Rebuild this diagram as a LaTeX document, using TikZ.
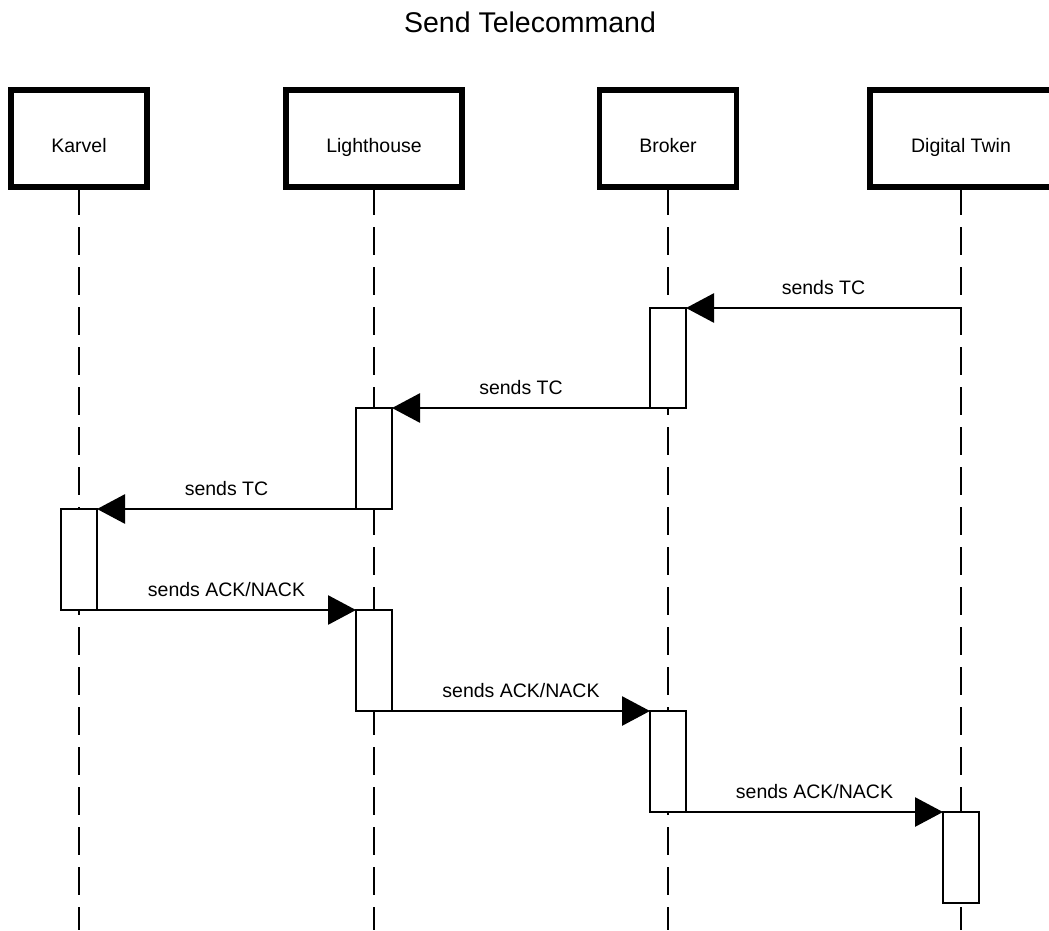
\documentclass[tikz,border=0pt]{standalone}
\usepackage{fontspec}
\setmainfont{Liberation Sans}
\usetikzlibrary{arrows.meta}
\begin{document}
\begin{tikzpicture}[x=1pt,y=-1pt,
  header/.style={draw, line width=5.5pt, fill=white, minimum height=97pt,
    inner sep=0pt, outer sep=0pt, text height=27pt, text depth=0pt,
    font=\fontsize{19.5}{22}\selectfont},
  lifeline/.style={line width=2.8pt, dash pattern=on 28pt off 12pt},
  actbox/.style={draw, fill=white, line width=2.8pt, minimum width=36pt,
    inner sep=0pt, outer sep=0pt},
  msg/.style={line width=2.8pt, -{Triangle[length=28pt,width=29pt]}},
  msglabel/.style={midway, anchor=base, yshift=14pt, font=\fontsize{19.5}{22}\selectfont},
]
\useasboundingbox (0,0) rectangle (1049,930);
\clip (0,0) rectangle (1049,930);

% title
\node[anchor=base, font=\fontsize{28.5}{32}\selectfont] (title) at (530,32) {Send Telecommand};

% participants
\node[header, minimum width=136pt] (karvel) at (79,138.5) {Karvel};
\node[header, minimum width=176pt] (light) at (374,138.5) {Lighthouse};
\node[header, minimum width=137pt] (broker) at (668,138.5) {Broker};
\node[header, minimum width=182pt] (twin) at (961,138.5) {Digital Twin};

% lifeline ends
\coordinate (karvel-end) at (79,930);
\coordinate (light-end) at (374,930);
\coordinate (broker-end) at (668,930);
\coordinate (twin-end) at (961,930);

\draw[lifeline] (karvel.south) -- (karvel-end);
\draw[lifeline] (light.south) -- (light-end);
\draw[lifeline] (broker.south) -- (broker-end);
\draw[lifeline] (twin.south) -- (twin-end);

% activation bars
\node[actbox, minimum height=100pt] (act1) at (668,358) {};
\node[actbox, minimum height=101pt] (act2) at (374,458.5) {};
\node[actbox, minimum height=101pt] (act3) at (79,559.5) {};
\node[actbox, minimum height=101pt] (act4) at (374,660.5) {};
\node[actbox, minimum height=101pt] (act5) at (668,761.5) {};
\node[actbox, minimum height=91pt] (act6) at (961,857.5) {};

% messages
\draw[msg] (twin |- act1.north east) -- (act1.north east) node[msglabel] {sends TC};
\draw[msg] (act1.south west) -- (act2.north east) node[msglabel] {sends TC};
\draw[msg] (act2.south west) -- (act3.north east) node[msglabel] {sends TC};
\draw[msg] (act3.south east) -- (act4.north west) node[msglabel] {sends ACK/NACK};
\draw[msg] (act4.south east) -- (act5.north west) node[msglabel] {sends ACK/NACK};
\draw[msg] (act5.south east) -- (act6.north west) node[msglabel] {sends ACK/NACK};
\end{tikzpicture}
\end{document}
